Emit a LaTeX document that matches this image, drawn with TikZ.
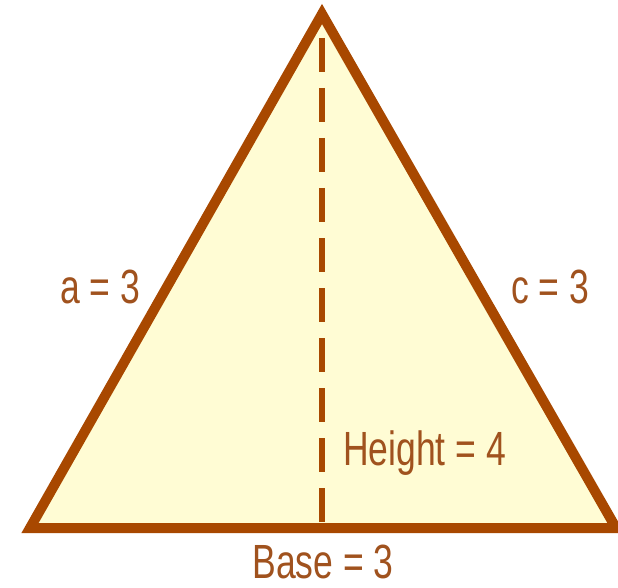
\documentclass[tikz,border=0pt]{standalone}
\usepackage{fontspec}
\setmainfont{Liberation Sans}
\definecolor{edgebrown}{RGB}{168,72,0}
\definecolor{fillyellow}{RGB}{255,252,212}
\definecolor{textbrown}{RGB}{160,82,30}
\newcommand\trilabel[1]{\scalebox{0.74}[1]{\fontsize{48}{48}\selectfont #1}}
\begin{document}
\begin{tikzpicture}[x=1pt,y=-1pt,
  sideline/.style={draw=edgebrown,line width=10pt,line join=miter,fill=fillyellow},
  heightline/.style={draw=edgebrown,line width=5.5pt,dash pattern=on 34pt off 16pt},
  lbl/.style={inner sep=0pt,anchor=base,text=textbrown}]
\useasboundingbox (0,0) rectangle (618,588);
\coordinate (A) at (322,14);
\coordinate (B) at (30,528);
\coordinate (C) at (616,528);
\coordinate (T) at (322,38);
\coordinate (F) at (322,522);
\draw[sideline] (A) -- (B) -- (C) -- cycle;
\draw[heightline] (T) -- (F);
\node[lbl] (la) at (100,303) {\trilabel{a = 3}};
\node[lbl] (lc) at (550,303) {\trilabel{c = 3}};
\node[lbl,anchor=base west] (lh) at (343,465) {\trilabel{Height = 4}};
\node[lbl] (lb) at (323,578) {\trilabel{Base = 3}};
\end{tikzpicture}
\end{document}
